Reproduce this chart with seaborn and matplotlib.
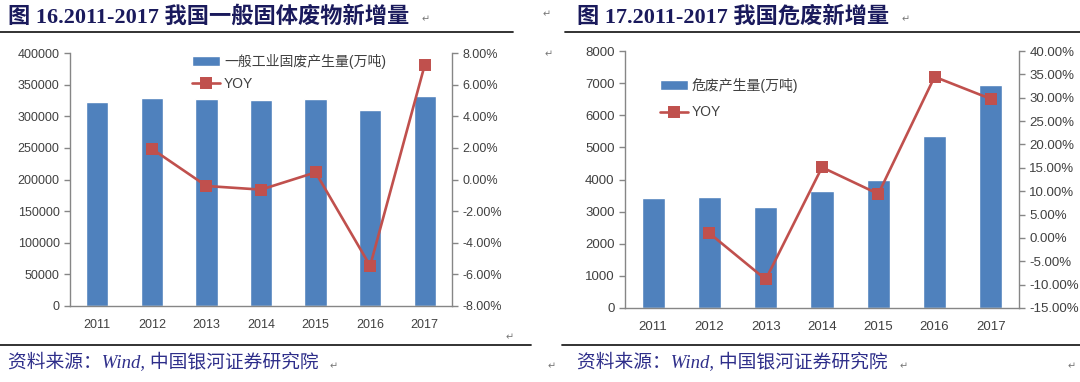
import numpy as np
import pandas as pd
import seaborn as sns
import matplotlib.pyplot as plt
from matplotlib.ticker import PercentFormatter, MultipleLocator, StrMethodFormatter
from matplotlib.lines import Line2D

# -----------------------------------------------------------------------------
# Data

years = ['2011', '2012', '2013', '2014', '2015', '2016', '2017']

solid_waste = [322772, 329044, 327702, 325620, 327079, 309210, 331592]   # 万吨
solid_yoy = [np.nan, 1.94, -0.41, -0.64, 0.45, -5.46, 7.24]              # %

hazard_waste = [3431, 3465, 3157, 3634, 3976, 5347, 6937]                # 万吨
hazard_yoy = [np.nan, 0.99, -8.89, 15.11, 9.41, 34.48, 29.74]            # %

solid_label = '一般工业固废产生量(万吨)'
hazard_label = '危废产生量(万吨)'
title_left = '图 16.2011-2017 我国一般固体废物新增量'
title_right = '图 17.2011-2017 我国危废新增量'
source_text = '资料来源：Wind, 中国银河证券研究院'

# -----------------------------------------------------------------------------

BAR = '#4F81BD'
LINE = '#C0504D'
AXIS = '#868686'
TEXT = '#404040'
NAVY = '#1A1A5C'

sns.set_style('white')
plt.rcParams['font.family'] = ['Liberation Sans', 'Noto Sans CJK SC', 'DejaVu Sans']
plt.rcParams['axes.unicode_minus'] = False

fig = plt.figure(figsize=(10.8, 3.82), dpi=100)
W, H = 1080, 382


def fx(px):
    return px / W


def fy(py):
    return 1 - py / H


def panel(rect, values, yoy, label, ymax, ystep, pmin, pmax, pstep,
          legend_xy, legend_gap, fsize):
    ax = fig.add_axes(rect)
    df = pd.DataFrame({'year': years, 'value': values, 'yoy': yoy})

    sns.barplot(data=df, x='year', y='value', order=years, color=BAR,
                width=0.41, saturation=1, ax=ax)
    ax2 = ax.twinx()
    sns.pointplot(data=df.dropna(), x='year', y='yoy', order=years,
                  color=LINE, markers='s', errorbar=None,
                  markersize=7, linewidth=1.9, ax=ax2)

    ax.set_ylim(0, ymax)
    ax.yaxis.set_major_locator(MultipleLocator(ystep))
    ax.yaxis.set_major_formatter(StrMethodFormatter('{x:.0f}'))
    ax2.set_ylim(pmin, pmax)
    ax2.yaxis.set_major_locator(MultipleLocator(pstep))
    ax2.yaxis.set_major_formatter(PercentFormatter(xmax=100, decimals=2))
    ax.set_xlim(-0.5, len(years) - 0.5)

    for a in (ax, ax2):
        a.set_xlabel('')
        a.set_ylabel('')
        a.spines['top'].set_visible(False)
        for s in a.spines.values():
            s.set_color(AXIS)
            s.set_linewidth(1)
        a.tick_params(colors=TEXT, labelsize=fsize, length=4, width=1,
                      color=AXIS, direction='out')
    ax.spines['right'].set_visible(False)
    ax2.spines['left'].set_visible(False)
    ax2.spines['bottom'].set_visible(False)

    # category separators on the x axis
    ax.set_xticks(np.arange(-0.5, len(years), 1), minor=True)
    ax.tick_params(axis='x', which='major', length=0, pad=9)
    ax.tick_params(axis='x', which='minor', length=5, color=AXIS)

    handles = [ax.containers[0], ax2.lines[0]]
    ax2.legend(handles, [label, 'YOY'], loc='upper left',
               bbox_to_anchor=(fx(legend_xy[0]), fy(legend_xy[1])),
               bbox_transform=fig.transFigure, frameon=False,
               borderpad=0, borderaxespad=0, handlelength=2.0,
               handletextpad=0.3, labelspacing=legend_gap,
               prop={'size': 10}, labelcolor=TEXT)
    return ax, ax2


panel([fx(70), fy(306), fx(382), fy(53) - fy(306)],
      solid_waste, solid_yoy, solid_label, 400000, 50000, -8, 8, 2,
      (192, 54), 0.55, 9)
panel([fx(625), fy(308), fx(394), fy(51) - fy(308)],
      hazard_waste, hazard_yoy, hazard_label, 8000, 1000, -15, 40, 5,
      (660, 78), 0.9, 9.5)

# titles, rules and source lines of the report page
title_font = ['Liberation Serif', 'Noto Sans CJK SC']
fig.text(fx(8), fy(17), title_left, family=title_font, weight='bold',
         size=16, color=NAVY, va='center', ha='left')
fig.text(fx(577), fy(17), title_right, family=title_font, weight='bold',
         size=16, color=NAVY, va='center', ha='left')

for x0, x1, y in [(0, 513, 32), (565, 1080, 32), (0, 531, 345), (562, 1080, 345)]:
    fig.add_artist(Line2D([fx(x0), fx(x1)], [fy(y), fy(y)], color='#222222',
                          linewidth=1.3, transform=fig.transFigure))

fig.text(fx(8), fy(363), source_text, family=title_font, style='italic',
         size=13.5, color='#2E2E8A', va='center', ha='left')
fig.text(fx(577), fy(363), source_text, family=title_font, style='italic',
         size=13.5, color='#2E2E8A', va='center', ha='left')

for x, y in [(422, 19), (543, 14), (506, 337), (545, 54), (902, 19),
             (330, 366), (548, 366), (900, 366), (1068, 366)]:
    fig.text(fx(x), fy(y), '↵', size=7, color='#777777', va='center',
             family='DejaVu Sans')

fig.savefig('out.png', dpi=100)
